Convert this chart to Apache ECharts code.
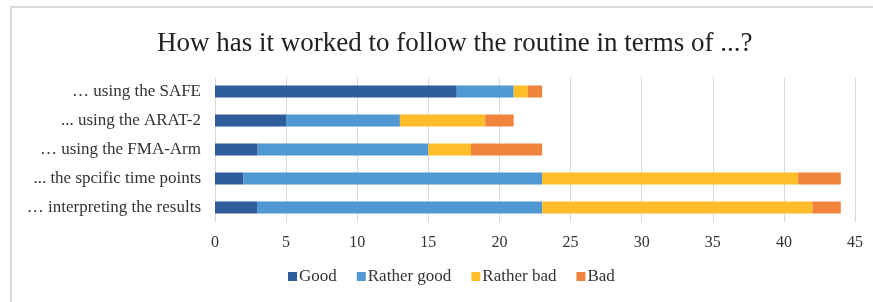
<!DOCTYPE html>
<html>
<head>
<meta charset="utf-8">
<script src="https://cdn.jsdelivr.net/npm/echarts@6/dist/echarts.min.js"></script>
<style>
  html, body { margin: 0; padding: 0; background: #fff; }
  #chart { width: 873px; height: 302px; }
</style>
</head>
<body>
<div id="chart"></div>
<script>
// categories, bottom to top
const categories = [
  '… interpreting the results',
  '... the spcific time points',
  '… using the FMA-Arm',
  '... using the ARAT-2',
  '… using the SAFE'
];
const good = [3, 2, 3, 5, 17];
const ratherGood = [20, 21, 12, 8, 4];
const ratherBad = [19, 18, 3, 6, 1];
const bad = [2, 3, 5, 2, 1];

const font = '"Liberation Serif", "DejaVu Serif", serif';

const chart = echarts.init(document.getElementById('chart'));

function bar(name, data, color) {
  return {
    name: name,
    type: 'bar',
    stack: 'total',
    barWidth: 12,
    itemStyle: { color: color },
    data: data
  };
}

chart.setOption({
  animation: false,
  title: {
    text: 'How has it worked to follow the routine in terms of ...?',
    left: 152,
    top: 25,
    textStyle: {
      fontFamily: font,
      fontSize: 27,
      fontWeight: 'normal',
      color: '#222'
    }
  },
  // outer chart border (top and left visible)
  graphic: [
    { type: 'line', shape: { x1: 10, y1: 7, x2: 873, y2: 7 }, style: { stroke: '#d9d9d9', lineWidth: 2 } },
    { type: 'line', shape: { x1: 11, y1: 6, x2: 11, y2: 302 }, style: { stroke: '#d9d9d9', lineWidth: 2 } }
  ],
  grid: {
    left: 215,
    right: 18,
    top: 77,
    bottom: 80
  },
  legend: {
    bottom: 12,
    left: 283,
    itemWidth: 9,
    itemHeight: 9,
    itemGap: 20,
    icon: 'rect',
    textStyle: { fontFamily: font, fontSize: 17, color: '#333', padding: [0, 0, 0, -3] },
    data: ['Good', 'Rather good', 'Rather bad', 'Bad']
  },
  xAxis: {
    type: 'value',
    min: 0,
    max: 45,
    interval: 5,
    axisLine: { show: false },
    axisTick: { show: false },
    axisLabel: { fontFamily: font, fontSize: 16, color: '#333', margin: 13 },
    splitLine: { lineStyle: { color: '#d9d9d9', width: 1 } }
  },
  yAxis: {
    type: 'category',
    data: categories,
    axisLine: { show: false },
    axisTick: { show: false },
    axisLabel: { fontFamily: font, fontSize: 17, color: '#333', margin: 14 }
  },
  series: [
    bar('Good', good, '#2e5c9c'),
    bar('Rather good', ratherGood, '#4f98d3'),
    bar('Rather bad', ratherBad, '#fdbe2a'),
    bar('Bad', bad, '#f1843d')
  ]
});
</script>
</body>
</html>
